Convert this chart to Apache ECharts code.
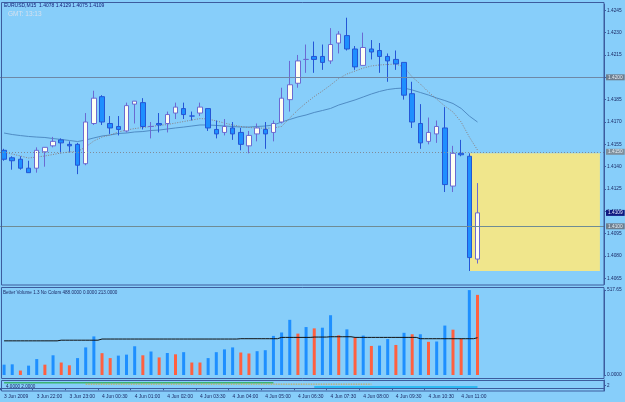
<!DOCTYPE html>
<html><head><meta charset="utf-8">
<script src="https://cdn.jsdelivr.net/npm/echarts@6/dist/echarts.min.js"></script>
<style>html,body{margin:0;padding:0;background:#87CEFA;overflow:hidden}#c{width:625px;height:402px}</style>
</head><body><div id="c"></div>
<script>
// ---- data ----
const xLabels = ['3 Jun 2009','3 Jun 22:00','3 Jun 23:00','4 Jun 00:30','4 Jun 01:00','4 Jun 02:00','4 Jun 03:30','4 Jun 04:00','4 Jun 05:00','4 Jun 06:30','4 Jun 07:30','4 Jun 08:00','4 Jun 09:30','4 Jun 10:30','4 Jun 11:00'];
const openP  = [1.4151,1.4146,1.4145,1.4139,1.4139,1.4150,1.4154,1.4158,1.4155,1.4155,1.4142,1.4169,1.4187,1.4169,1.4167,1.4164,1.4182,1.4183,1.4167,1.4169,1.4169,1.4176,1.4179,1.4174,1.4176,1.4179,1.4165,1.4163,1.4166,1.4163,1.4154,1.4162,1.4165,1.4163,1.4170,1.4185,1.4196,1.4212,1.4214,1.4214,1.4211,1.4223,1.4228,1.4219,1.4208,1.4219,1.4218,1.4214,1.4212,1.4210,1.4189,1.4169,1.4157,1.4162,1.4166,1.4127,1.4149,1.4147,1.4078];
const closeP = [1.4145,1.4144,1.4139,1.4136,1.4151,1.4153,1.4157,1.4156,1.4154,1.4141,1.4170,1.4186,1.4170,1.4166,1.4165,1.4181,1.4184,1.4167,1.4167,1.4168,1.4175,1.4180,1.4175,1.4174,1.4180,1.4166,1.4162,1.4167,1.4162,1.4155,1.4161,1.4166,1.4162,1.4169,1.4186,1.4195,1.4211,1.4212,1.4212,1.4210,1.4222,1.4229,1.4219,1.4207,1.4220,1.4217,1.4214,1.4211,1.4209,1.4188,1.4170,1.4156,1.4163,1.4167,1.4128,1.4149,1.4148,1.4079,1.4109];
const lowP   = [1.4144,1.4138,1.4138,1.4136,1.4136,1.4140,1.4153,1.4149,1.4150,1.4135,1.4141,1.4168,1.4168,1.4162,1.4161,1.4163,1.4169,1.4165,1.4159,1.4163,1.4163,1.4172,1.4172,1.4171,1.4174,1.4164,1.4159,1.4161,1.4158,1.4151,1.4149,1.4157,1.4152,1.4157,1.4169,1.4177,1.4193,1.4203,1.4203,1.4205,1.4209,1.4216,1.4218,1.4205,1.4208,1.4212,1.4203,1.4197,1.4205,1.4185,1.4166,1.4152,1.4155,1.4156,1.4123,1.4123,1.4147,1.4070,1.4075];
const highP  = [1.4152,1.4147,1.4147,1.4144,1.4153,1.4153,1.4160,1.4159,1.4157,1.4156,1.4176,1.4191,1.4188,1.4174,1.4174,1.4183,1.4184,1.4186,1.4170,1.4176,1.4177,1.4183,1.4183,1.4177,1.4183,1.4179,1.4171,1.4172,1.4170,1.4166,1.4164,1.4169,1.4170,1.4171,1.4193,1.4211,1.4215,1.4222,1.4224,1.4222,1.4233,1.4231,1.4240,1.4221,1.4230,1.4225,1.4223,1.4216,1.4218,1.4210,1.4197,1.4182,1.4173,1.4171,1.4180,1.4154,1.4158,1.4149,1.4129];
const maFast = [1.41499,1.41485,1.41472,1.41458,1.41465,1.41472,1.41482,1.41492,1.41499,1.41502,1.41532,1.41573,1.41599,1.41613,1.41633,1.41646,1.41656,1.41663,1.41670,1.41677,1.41683,1.41693,1.41703,1.41713,1.41723,1.41720,1.41707,1.41693,1.41680,1.41670,1.41663,1.41660,1.41658,1.41660,1.41670,1.41727,1.41781,1.41828,1.41871,1.41908,1.41948,1.41992,1.42022,1.42042,1.42062,1.42076,1.42083,1.42086,1.42089,1.42069,1.42002,1.41955,1.41901,1.41854,1.41807,1.41767,1.41700,1.41599,1.41512];
const maSlow = [1.41626,1.41616,1.41609,1.41603,1.41599,1.41596,1.41589,1.41583,1.41576,1.41569,1.41579,1.41593,1.41606,1.41613,1.41623,1.41626,1.41633,1.41636,1.41643,1.41646,1.41653,1.41660,1.41666,1.41673,1.41680,1.41680,1.41677,1.41673,1.41670,1.41666,1.41666,1.41670,1.41673,1.41680,1.41700,1.41717,1.41734,1.41747,1.41764,1.41777,1.41791,1.41814,1.41831,1.41848,1.41868,1.41888,1.41905,1.41918,1.41925,1.41928,1.41915,1.41898,1.41881,1.41861,1.41844,1.41824,1.41791,1.41740,1.41700];
const volume = [63,65,27,57,97,63,120,76,59,103,168,235,133,103,118,124,175,120,143,107,134,126,139,76,76,103,139,156,168,137,131,145,151,238,259,336,252,292,284,288,364,242,278,227,240,177,179,219,183,257,248,248,202,204,301,276,221,517,488];
const volSide = ['b','b','r','b','b','r','b','r','r','b','b','b','r','r','b','b','b','r','b','r','b','r','b','r','r','b','b','b','b','r','r','b','b','b','b','b','r','b','r','b','b','r','b','r','b','r','b','b','r','b','r','b','r','b','b','r','r','b','r'];
const volAvg = [208,208,208,208,208,208,208,212,212,212,212,212,219,219,219,219,219,219,219,219,219,219,219,219,219,219,219,219,219,221,221,221,221,221,229,229,229,229,231,231,233,233,233,229,229,229,229,229,229,229,229,221,221,221,221,221,221,221,227];
const miniGreen  = [4,4,4,4,4,4,4,4,4,4,4,4,4,4,4,4,4,4,4,4,4,4,4,4,4,4,4,4,4,4,4,4,4,4,'-','-','-','-','-','-','-','-','-','-','-','-','-','-','-','-','-','-','-','-','-','-','-','-','-'];
const miniOrange = ['-','-','-','-','-','-','-','-','-','-',3,3,3,3,3,3,3,3,3,3,3,3,3,3,3,3,3,3,3,3,3,3,3,3,3,3,3,3,3,3,3,3,3,3,3,3,'-','-','-','-','-','-','-','-','-','-','-','-','-'];
const miniCyan   = ['-','-','-','-','-','-','-','-','-','-','-','-','-','-','-','-','-','-','-','-','-','-','-','-','-','-','-','-','-','-','-','-','-','-','-','-','-','-',1,1,1,1,1,1,1,1,1,1,1,1,1,1,1,1,1,1,1,1,1];
const priceTicks = [1.4065,1.4080,1.4095,1.4110,1.4125,1.4140,1.4155,1.4170,1.4185,1.4200,1.4215,1.4230,1.4245];
const levelSolid = [1.4200, 1.4100];
const levelDotted = 1.4150;
const bidPrice = 1.4109;
const rectTop = 1.4149, rectBottom = 1.4070, rectStart = '57', rectEnd = '73';
const volTicks = [0, 517.65];
const volTickLabels = ['0.0000', '517.65'];
const miniTicks = [0, 2];
const titleText = 'EURUSD,M15  1.4078 1.4129 1.4075 1.4109';
const gmtText = 'GMT: 13:13';
const volTitle = 'Better Volume 1.3 No Colors 488.0000 0.0000 213.0000';
const miniTitle = '4.0000 2.0000';
const SLOTS = 74;

// ---- chart ----
const cats = Array.from({length: SLOTS}, (_, i) => String(i));
const ohlc = openP.map((o, i) => [o, closeP[i], lowP[i], highP[i]]);
const BLUE = '#1E8FFF', RED = '#FF6040';
const volData = volume.map((v, i) => ({value: v, itemStyle: {color: volSide[i] === 'r' ? RED : BLUE}}));
const FONT = 'Liberation Sans';
const axisCol = '#3d5c9e';
const lblCol = '#1c2a66';
const boxLabel = (bg, fg) => ({show: true, position: 'end', distance: 2, fontSize: 4.8, fontFamily: FONT,
  color: fg, backgroundColor: bg, padding: [1, 2, 0, 2], formatter: p => Number(p.value).toFixed(4)});
const levelLine = (val, type, col, bg, fg, w) => ({
  type: 'line', xAxisIndex: 0, yAxisIndex: 0, data: [], z: 4, silent: true,
  markLine: {silent: true, symbol: 'none', animation: false, precision: 4,
    lineStyle: {type: type, color: col, width: w},
    label: boxLabel(bg, fg),
    data: [{yAxis: val}]}
});

const chart = echarts.init(document.getElementById('c'), null, {renderer: 'canvas'});
const labelIdx = i => i % 4 === 0 && (i / 4) < xLabels.length;

chart.setOption({
  backgroundColor: '#87CEFA',
  animation: false,
  grid: [
    {left: 0, right: 21, top: 4.3, height: 280.1},
    {left: 0, right: 21, top: 290, height: 85},
    {left: 0, right: 21, top: 380, height: 11}
  ],
  xAxis: [0, 1, 2].map(g => ({
    type: 'category', gridIndex: g, data: cats, boundaryGap: true,
    axisLine: {show: g === 2, lineStyle: {color: axisCol}},
    axisTick: {show: g === 2, interval: (i) => labelIdx(i), length: 2, lineStyle: {color: axisCol}},
    axisLabel: {show: g === 2, interval: (i) => labelIdx(i), align: 'left', margin: 3, fontSize: 4.9,
      fontFamily: FONT, color: lblCol, formatter: (v, i) => xLabels[i / 4] || ''},
    splitLine: {show: false}
  })),
  yAxis: [
    {type: 'value', gridIndex: 0, position: 'right', min: 1.4061, max: 1.4249, scale: true,
      axisLine: {show: true, lineStyle: {color: axisCol}},
      axisTick: {show: true, length: 2, customValues: priceTicks, lineStyle: {color: axisCol}},
      axisLabel: {show: true, customValues: priceTicks, margin: 3, fontSize: 4.8, fontFamily: FONT, color: lblCol,
        formatter: v => v.toFixed(4)},
      splitLine: {show: false}},
    {type: 'value', gridIndex: 1, position: 'right', min: 0, max: 517.65,
      axisLine: {show: true, lineStyle: {color: axisCol}},
      axisTick: {show: true, length: 2, customValues: volTicks, lineStyle: {color: axisCol}},
      axisLabel: {show: true, customValues: volTicks, margin: 3, fontSize: 4.8, fontFamily: FONT, color: lblCol,
        formatter: v => volTickLabels[volTicks.indexOf(v)] || ''},
      splitLine: {show: false}},
    {type: 'value', gridIndex: 2, position: 'right', min: -2, max: 6,
      axisLine: {show: true, lineStyle: {color: axisCol}},
      axisTick: {show: true, length: 2, customValues: miniTicks, lineStyle: {color: axisCol}},
      axisLabel: {show: true, customValues: miniTicks, margin: 3, fontSize: 4.5, fontFamily: FONT, color: lblCol},
      splitLine: {show: false}}
  ],
  series: [
    {type: 'line', name: 'rect', xAxisIndex: 0, yAxisIndex: 0, data: [], z: 1, silent: true,
      markArea: {silent: true, itemStyle: {color: '#F0E68C'},
        data: [[{xAxis: rectStart, yAxis: rectTop}, {xAxis: rectEnd, yAxis: rectBottom}]]}},
    {type: 'line', name: 'maSlow', xAxisIndex: 0, yAxisIndex: 0, data: maSlow, symbol: 'none', z: 2,
      lineStyle: {color: '#4f8cc4', width: 1}},
    {type: 'line', name: 'maFast', xAxisIndex: 0, yAxisIndex: 0, data: maFast, symbol: 'none', z: 2,
      lineStyle: {color: '#8a7f80', width: 1, type: [1, 1.5]}},
    levelLine(levelSolid[0], 'solid', '#6e88a6', '#6f7f8f', '#e6eef6', 1),
    levelLine(levelDotted, [1, 2], '#808c9a', '#7f8f9c', '#e6eef6', 1),
    levelLine(levelSolid[1], 'solid', '#6f8c94', '#6f7f8f', '#e6eef6', 1),
    levelLine(bidPrice, 'solid', 'rgba(0,0,0,0)', '#101a80', '#e8ecff', 0),
    {type: 'candlestick', name: 'EURUSD', xAxisIndex: 0, yAxisIndex: 0, data: ohlc, barWidth: 5, z: 3,
      itemStyle: {color: '#FFFFF2', color0: '#1E8FFF', borderColor: '#6a6ad2', borderColor0: '#2456d6', borderWidth: 1}},
    {type: 'bar', name: 'volume', xAxisIndex: 1, yAxisIndex: 1, data: volData, barWidth: 3, z: 2},
    {type: 'line', name: 'volAvg', xAxisIndex: 1, yAxisIndex: 1, data: volAvg, step: 'middle', symbol: 'none', z: 3,
      lineStyle: {color: '#101010', width: 1}},
    {type: 'line', name: 'g', xAxisIndex: 2, yAxisIndex: 2, data: miniGreen, symbol: 'none', lineStyle: {color: '#3cb371', width: 1.5}},
    {type: 'line', name: 'o', xAxisIndex: 2, yAxisIndex: 2, data: miniOrange, symbol: 'none', lineStyle: {color: '#d9a53a', width: 1, type: [1.5, 1]}},
    {type: 'line', name: 'c', xAxisIndex: 2, yAxisIndex: 2, data: miniCyan, symbol: 'none', lineStyle: {color: '#12b4f0', width: 1.5}}
  ],
  graphic: [
    {type: 'rect', shape: {x: 1.5, y: 2.5, width: 602.5, height: 282.5}, style: {fill: null, stroke: axisCol, lineWidth: 1}, silent: true, z: 10},
    {type: 'rect', shape: {x: 1.5, y: 287.5, width: 602.5, height: 91}, style: {fill: null, stroke: axisCol, lineWidth: 1}, silent: true, z: 10},
    {type: 'rect', shape: {x: 1.5, y: 380.5, width: 602.5, height: 10.5}, style: {fill: null, stroke: axisCol, lineWidth: 1}, silent: true, z: 10},
    {type: 'text', x: 4, y: 5.5, z: 11, style: {text: titleText, fill: '#14207a', font: '5px "Liberation Sans"', verticalAlign: 'middle'}},
    {type: 'text', x: 8, y: 14.5, z: 11, style: {text: gmtText, fill: '#d4e0ee', font: '6.5px "Liberation Sans"', verticalAlign: 'middle'}},
    {type: 'text', x: 3, y: 292.5, z: 11, style: {text: volTitle, fill: '#1c2a66', font: '4.6px "Liberation Sans"', verticalAlign: 'middle'}},
    {type: 'text', x: 6, y: 387, z: 11, style: {text: miniTitle, fill: '#1c2a66', font: '4.6px "Liberation Sans"', verticalAlign: 'middle'}}
  ]
});
</script>
</body></html>
